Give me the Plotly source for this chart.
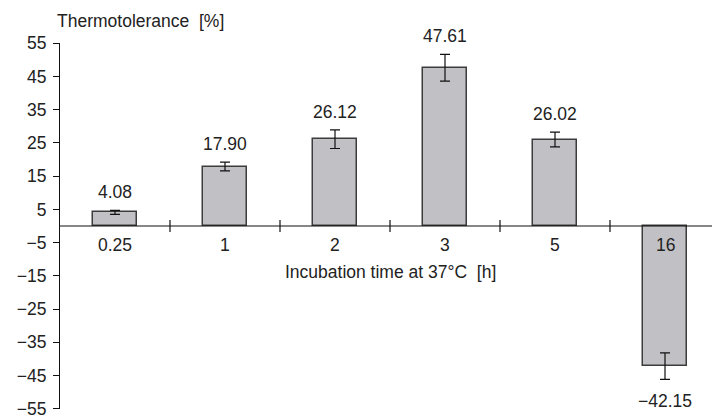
import plotly.graph_objects as go

categories = ["0.25", "1", "2", "3", "5", "16"]
values = [4.08, 17.90, 26.12, 47.61, 26.02, -42.15]
errors = [0.6, 1.3, 2.8, 4.0, 2.2, 4.0]
value_labels = ["4.08", "17.90", "26.12", "47.61", "26.02", "\u221242.15"]
y_ticks = [55, 45, 35, 25, 15, 5, -5, -15, -25, -35, -45, -55]

FONT = "Liberation Sans, Arial, sans-serif"
TXT = "#222222"
FS = 17.5

xpos = list(range(len(categories)))

fig = go.Figure()
fig.add_trace(go.Bar(
    x=xpos, y=values, width=0.4,
    marker=dict(color="#c1c1c5", line=dict(color="#3c3c3c", width=1.5)),
    error_y=dict(type="data", array=errors, visible=True, color="#111111",
                 thickness=1.2, width=5),
    showlegend=False, hoverinfo="skip",
))

annotations = []
for i, (v, e, lab) in enumerate(zip(values, errors, value_labels)):
    if v >= 0:
        annotations.append(dict(x=i, y=v + e, xref="x", yref="y", text=lab,
                                showarrow=False, yanchor="bottom", yshift=6,
                                font=dict(family=FONT, size=FS, color=TXT)))
    else:
        annotations.append(dict(x=i, y=v - e, xref="x", yref="y", text=lab,
                                showarrow=False, yanchor="top", yshift=-10,
                                font=dict(family=FONT, size=FS, color=TXT)))
    annotations.append(dict(x=i, y=0, xref="x", yref="y", text=categories[i],
                            showarrow=False, yanchor="top", yshift=-7,
                            font=dict(family=FONT, size=FS, color=TXT)))

annotations.append(dict(x=2.5, y=0, xref="x", yref="y",
                        text="Incubation time at 37\u00b0C  [h]",
                        showarrow=False, yanchor="top", yshift=-34,
                        font=dict(family=FONT, size=FS, color=TXT)))
annotations.append(dict(x=-0.008, y=1.0, xref="paper", yref="paper",
                        text="Thermotolerance  [%]", showarrow=False,
                        xanchor="left", yanchor="bottom", yshift=10,
                        font=dict(family=FONT, size=FS, color=TXT)))

shapes = []
shapes.append(dict(type="line", xref="paper", yref="y", x0=0, x1=1, y0=0, y1=0,
                   line=dict(color="#111111", width=1.2), layer="above"))
for i in range(len(categories) - 1):
    shapes.append(dict(type="line", xref="x", yref="y", x0=i + 0.5, x1=i + 0.5,
                       ysizemode="pixel", yanchor=0, y0=-6, y1=6,
                       line=dict(color="#111111", width=1.2), layer="above"))

fig.update_layout(
    width=712, height=419,
    margin=dict(l=60, r=0, t=43, b=10),
    paper_bgcolor="white", plot_bgcolor="white",
    font=dict(family=FONT, size=FS, color=TXT),
    bargap=0,
    xaxis=dict(range=[-0.5, 5.5 - 8 / 110], showticklabels=False, ticks="",
               showgrid=False, zeroline=False, showline=False),
    yaxis=dict(range=[-55.05, 55.05], tickvals=y_ticks, ticks="outside", ticklen=6,
               tickwidth=1.2, tickcolor="#111111", showline=True,
               linecolor="#111111", linewidth=1.2, showgrid=False,
               zeroline=False, ticklabelstandoff=3,
               tickfont=dict(family=FONT, size=FS, color=TXT)),
    annotations=annotations,
    shapes=shapes,
)

fig.write_html("out.html", config={"displayModeBar": False},
               post_script="document.body.style.margin='0';document.body.style.overflow='hidden';")
